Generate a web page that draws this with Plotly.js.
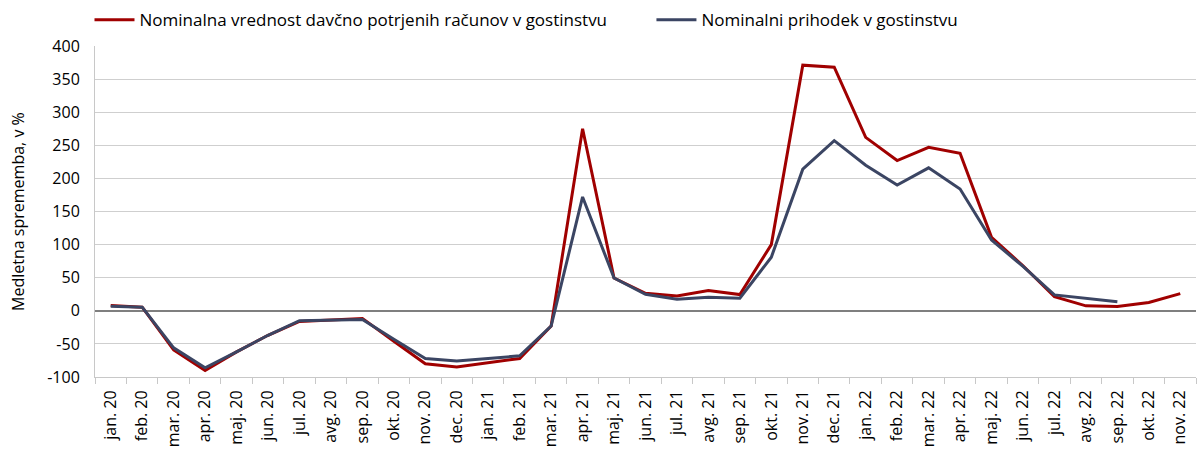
<!DOCTYPE html>
<html><head><meta charset="utf-8">
<script src="https://cdn.plot.ly/plotly-3.0.1.min.js"></script>
<style>html,body{margin:0;padding:0;background:#fff}#chart{width:1197px;height:449px}</style>
</head><body><div id="chart"></div>
<script>
var months = ["jan. 20","feb. 20","mar. 20","apr. 20","maj. 20","jun. 20","jul. 20","avg. 20","sep. 20","okt. 20","nov. 20","dec. 20",
"jan. 21","feb. 21","mar. 21","apr. 21","maj. 21","jun. 21","jul. 21","avg. 21","sep. 21","okt. 21","nov. 21","dec. 21",
"jan. 22","feb. 22","mar. 22","apr. 22","maj. 22","jun. 22","jul. 22","avg. 22","sep. 22","okt. 22","nov. 22"];
var racuni = [8,5.5,-59,-90,-62,-37,-16,-14,-11.5,-46,-80,-85,-78,-72,-23,275,49.5,26.5,22.5,30.5,24.5,100,371,368,262,227,247,238,111,68,21.5,7.5,6.5,12.5,26];
var prihodek = [7,5.5,-56,-86,-62,-37,-15,-14,-13,-43,-72,-76,-72,-68,-23,172,49.5,25,17.5,20.5,19,81,214,257,220,190,216,184,107,67,24,19,13.5,null,null];
var names = ["Nominalna vrednost davčno potrjenih računov v gostinstvu","Nominalni prihodek v gostinstvu"];
var yTitle = "Medletna sprememba, v %";
var yTickVals = [-100,-50,0,50,100,150,200,250,300,350,400];
var font = "Open Sans, Noto Sans, sans-serif";
var data = [
 {x: months, y: racuni, name: names[0], type: "scatter", mode: "lines", line: {color: "#A00000", width: 3}, legend: "legend"},
 {x: months, y: prihodek, name: names[1], type: "scatter", mode: "lines", line: {color: "#3B4563", width: 3}, connectgaps: false, legend: "legend2"}
];
var legBase = {orientation: "h", xanchor: "left", y: 0.955, yanchor: "middle", yref: "container",
   font: {size: 17, color: "#000"}, itemwidth: 40, bgcolor: "rgba(0,0,0,0)"};
var layout = {
 width: 1197, height: 449,
 margin: {l: 95, r: 1, t: 46, b: 72},
 paper_bgcolor: "#fff", plot_bgcolor: "#fff",
 font: {family: font, size: 16, color: "#000"},
 showlegend: true,
 legend: Object.assign({}, legBase, {x: -0.005}),
 legend2: Object.assign({}, legBase, {x: 0.5054}),
 xaxis: {type: "category", tickangle: -90, tickson: "boundaries", ticks: "outside", ticklen: 6, tickcolor: "#c8c8c8",
   showgrid: false, showline: true, linecolor: "#c8c8c8", linewidth: 1, tickfont: {size: 16}, ticklabelstandoff: 6,
   range: [-0.5, 34.5], automargin: false},
 yaxis: {range: [-100, 400], tickvals: yTickVals, ticktext: yTickVals.map(String), showgrid: true, gridcolor: "#cfcfcf", gridwidth: 1,
   zeroline: true, zerolinecolor: "#7f7f7f", zerolinewidth: 1.5, showline: true, linecolor: "#c8c8c8", ticks: "", tickfont: {size: 16},
   ticklabelstandoff: 11, automargin: false},
 annotations: [{text: yTitle, xref: "paper", yref: "paper", x: -0.0705, y: 0.5, xanchor: "center", yanchor: "middle",
   textangle: -90, showarrow: false, font: {size: 16, color: "#000"}}]
};
Plotly.newPlot("chart", data, layout, {staticPlot: true, displayModeBar: false});
</script></body></html>
